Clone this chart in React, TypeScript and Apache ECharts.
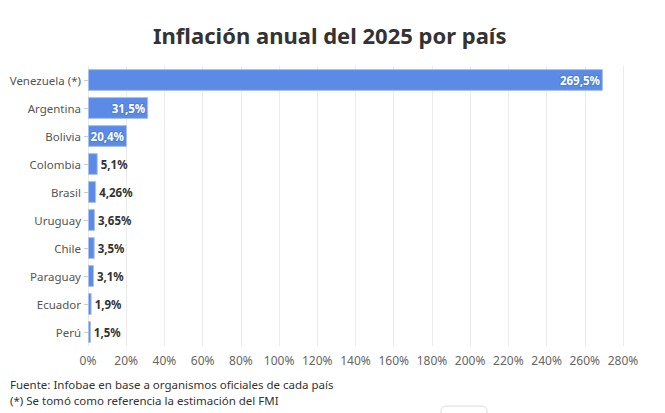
import React, { useEffect, useRef } from "react";
import * as echarts from "echarts";

const countries = ["Venezuela (*)", "Argentina", "Bolivia", "Colombia", "Brasil", "Uruguay", "Chile", "Paraguay", "Ecuador", "Perú"];
const values = [269.5, 31.5, 20.4, 5.1, 4.26, 3.65, 3.5, 3.1, 1.9, 1.5];
const valueLabels = ["269,5%", "31,5%", "20,4%", "5,1%", "4,26%", "3,65%", "3,5%", "3,1%", "1,9%", "1,5%"];
const insideThreshold = 15;
const title = "Inflación anual del 2025 por país";
const footnotes = ["Fuente: Infobae en base a organismos oficiales de cada país", "(*) Se tomó como referencia la estimación del FMI"];

const FONT = "'Noto Sans', 'Open Sans', sans-serif";

export default function App() {
  const ref = useRef<HTMLDivElement>(null);
  useEffect(() => {
    if (!ref.current) return;
    const chart = echarts.init(ref.current, undefined, { renderer: "svg" });
    const data = values.map((v) => {
      const inside = v > insideThreshold;
      return {
        value: v,
        label: inside
          ? {
              position: "insideRight",
              color: "#ffffff",
              textBorderColor: "#4f7fdc",
              textBorderWidth: 2,
              distance: 3,
            }
          : { position: "right", color: "#333333", distance: 3 },
      };
    });
    chart.setOption({
      animation: false,
      textStyle: { fontFamily: FONT },
      title: {
        text: title,
        left: 148,
        top: 19,
        textStyle: { fontSize: 22, fontWeight: "bold", color: "#333333", fontFamily: FONT },
      },
      grid: { left: 88, right: 42, top: 66, bottom: 67, containLabel: false },
      xAxis: {
        type: "value",
        min: 0,
        max: 280,
        interval: 20,
        axisLine: { show: false },
        axisTick: { show: false },
        axisLabel: { formatter: "{value}%", color: "#666666", fontSize: 12, margin: 8 },
        splitLine: { lineStyle: { color: "#ebebeb" } },
      },
      yAxis: {
        type: "category",
        data: countries,
        inverse: true,
        axisLine: { show: false },
        axisTick: { show: true, length: 4, lineStyle: { color: "#cccccc" }, alignWithLabel: true },
        axisLabel: { color: "#555555", fontSize: 11.5, margin: 7 },
      },
      series: [
        {
          type: "bar",
          data,
          barWidth: "78%",
          itemStyle: { color: "#5b8be6", borderColor: "#a8c0f0", borderWidth: 1 },
          label: {
            show: true,
            fontSize: 11.5,
            fontWeight: "bold",
            fontFamily: FONT,
            formatter: (p: any) => valueLabels[p.dataIndex],
          },
        },
      ],
      graphic: [
        {
          type: "text",
          left: 10,
          top: 378,
          style: { text: footnotes[0], fontSize: 11.5, fill: "#333333", fontFamily: FONT },
        },
        {
          type: "text",
          left: 10,
          top: 394,
          style: { text: footnotes[1], fontSize: 11.5, fill: "#333333", fontFamily: FONT },
        },
        {
          type: "rect",
          shape: { x: 441, y: 406, width: 46, height: 14, r: 5 },
          style: { fill: "#ffffff", stroke: "#dddddd", lineWidth: 1 },
        },
      ],
    });
    return () => chart.dispose();
  }, []);
  return <div ref={ref} style={{ width: 665, height: 413, position: "absolute", left: 0, top: 0 }} />;
}
